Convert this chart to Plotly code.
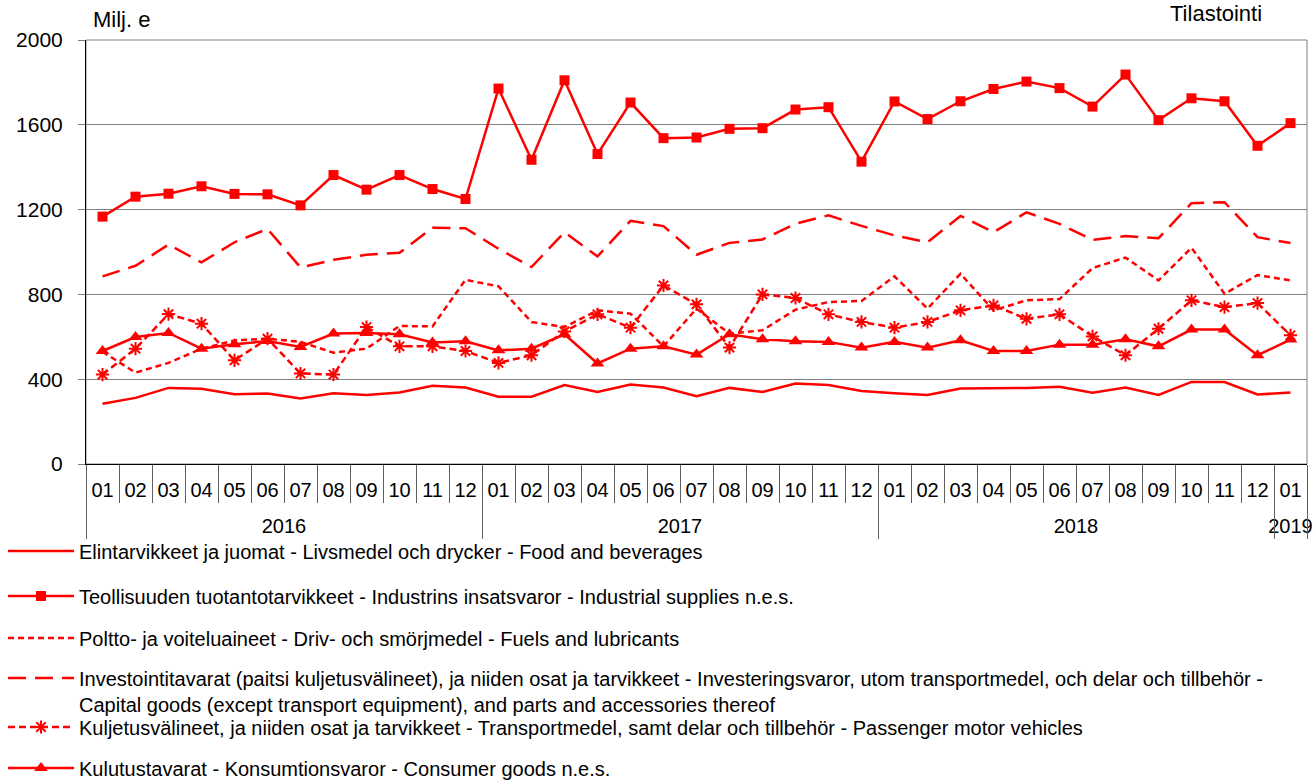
import plotly.graph_objects as go

years = ["2016"] * 12 + ["2017"] * 12 + ["2018"] * 12 + ["2019"]
months = ["01", "02", "03", "04", "05", "06", "07", "08", "09", "10", "11", "12"] * 3 + ["01"]

food = [284, 312, 359, 355, 329, 333, 309, 334, 326, 337, 369, 361,
        317, 317, 372, 340, 375, 361, 320, 359, 340, 380, 373, 344,
        334, 325, 356, 356, 359, 364, 336, 361, 326, 387, 387, 328, 337]
industrial = [1167, 1261, 1275, 1310, 1274, 1272, 1220, 1363, 1294, 1363, 1297, 1250,
              1771, 1435, 1810, 1462, 1705, 1537, 1540, 1581, 1584, 1672, 1683, 1426,
              1710, 1627, 1711, 1769, 1804, 1773, 1686, 1837, 1622, 1725, 1711, 1501, 1608]
fuels = [530, 431, 477, 544, 583, 591, 576, 525, 544, 651, 649, 869,
         838, 670, 646, 725, 709, 555, 733, 615, 631, 728, 764, 769,
         885, 733, 897, 725, 772, 778, 924, 974, 866, 1020, 803, 891, 866]
capital = [885, 935, 1035, 951, 1046, 1109, 927, 963, 987, 996, 1114, 1112,
           1015, 929, 1093, 979, 1147, 1122, 987, 1043, 1059, 1133, 1173, 1123,
           1078, 1046, 1170, 1093, 1187, 1133, 1057, 1075, 1065, 1230, 1235, 1070, 1042]
passenger = [422, 544, 707, 662, 489, 591, 427, 422, 646, 555, 555, 533,
             477, 513, 625, 706, 643, 842, 753, 549, 800, 783, 706, 670,
             643, 670, 725, 748, 685, 706, 602, 513, 638, 772, 740, 759, 607]
consumer = [533, 599, 618, 544, 565, 580, 552, 615, 618, 612, 573, 579,
            536, 544, 612, 474, 544, 555, 516, 612, 588, 579, 576, 549,
            576, 549, 584, 533, 533, 563, 563, 588, 555, 634, 634, 513, 587]

names = [
    "Elintarvikkeet ja juomat - Livsmedel och drycker - Food and beverages",
    "Teollisuuden tuotantotarvikkeet - Industrins insatsvaror - Industrial supplies n.e.s.",
    "Poltto- ja voiteluaineet - Driv- och smörjmedel - Fuels and lubricants",
    "Investointitavarat (paitsi kuljetusvälineet), ja niiden osat ja tarvikkeet - Investeringsvaror, utom transportmedel, och delar och tillbehör -<br>Capital goods (except transport equipment), and parts and accessories thereof",
    "Kuljetusvälineet, ja niiden osat ja tarvikkeet - Transportmedel, samt delar och tillbehör - Passenger motor vehicles",
    "Kulutustavarat - Konsumtionsvaror - Consumer goods n.e.s.",
]

RED = "#FF0000"
FONT = "Liberation Sans, Arial, sans-serif"
keys = [f"{y}-{m}" for y, m in zip(years, months)]
n = len(keys)

# year groups (label positions and separators derived from the years list)
year_labels, year_centers, year_bounds = [], [], [-0.5]
start = 0
for i in range(1, n + 1):
    if i == n or years[i] != years[start]:
        year_labels.append(years[start])
        year_centers.append((start + i - 1) / 2)
        year_bounds.append(i - 0.5)
        start = i
month_bounds = [i - 0.5 for i in range(n + 1)]

fig = go.Figure()
series = [
    (food, dict(width=2.5), None, "lines"),
    (industrial, dict(width=2.5), dict(symbol="square", size=10), "lines+markers"),
    (fuels, dict(width=2.5, dash="6px,4px"), None, "lines"),
    (capital, dict(width=2.5, dash="18px,9px"), None, "lines"),
    (passenger, dict(width=2.5, dash="7px,4px"), dict(symbol="asterisk-open", size=11, line=dict(width=2, color=RED)), "lines+markers"),
    (consumer, dict(width=2.5), dict(symbol="triangle-up", size=12), "lines+markers"),
]
for k, (vals, line, marker, mode) in enumerate(series):
    tr = dict(x=keys, y=vals, name=names[k], mode=mode,
              line=dict(color=RED, **line),
              legend="legend" if k == 0 else f"legend{k+1}")
    if marker:
        tr["marker"] = dict(color=RED, **marker)
    fig.add_trace(go.Scatter(**tr))

# empty helper traces so that the overlay axes (year labels, separators) get drawn
for ax in ["x2", "x3", "x4"]:
    fig.add_trace(go.Scatter(x=[], y=[], xaxis=ax, yaxis="y", showlegend=False,
                             hoverinfo="skip", mode="lines"))

L, R, T, B = 86, 7, 40, 316
H = 780 - T - B
W = 1314 - L - R

def py(p):
    return (780 - B - p) / H

legend_y = [551, 596, 638, 691, 727, 768]
layout_legends = {}
for k, yy in enumerate(legend_y):
    key = "legend" if k == 0 else f"legend{k+1}"
    layout_legends[key] = dict(
        x=(3 - L) / W, xanchor="left", y=py(yy), yanchor="middle",
        font=dict(family=FONT, size=20, color="#000"),
        bgcolor="rgba(0,0,0,0)", itemwidth=66,
        valign="top" if k == 3 else "middle")

XR = [-0.5, n - 0.5]
fig.update_layout(
    width=1314, height=780,
    margin=dict(l=L, r=R, t=T, b=B, autoexpand=False),
    paper_bgcolor="white", plot_bgcolor="white",
    font=dict(family=FONT, size=20, color="#000"),
    showlegend=True,
    **layout_legends,
    xaxis=dict(
        type="category", categoryorder="array", categoryarray=keys, range=XR,
        tickmode="array", tickvals=keys, ticktext=months,
        showgrid=False, showline=True, linecolor="#000", linewidth=1,
        ticks="", tickfont=dict(family=FONT, size=20, color="#000"),
        ticklabelstandoff=8, zeroline=False, automargin=False,
    ),
    xaxis2=dict(
        overlaying="x", anchor="y", side="bottom", range=XR,
        tickmode="array", tickvals=year_centers, ticktext=year_labels,
        ticks="", showgrid=False, showline=False, zeroline=False,
        tickfont=dict(family=FONT, size=20, color="#000"),
        ticklabelstandoff=48, automargin=False,
    ),
    xaxis3=dict(
        overlaying="x", anchor="y", side="bottom", range=XR,
        tickmode="array", tickvals=month_bounds, ticks="outside", ticklen=38,
        tickcolor="#606060", tickwidth=1, showticklabels=False,
        showgrid=False, showline=False, zeroline=False, automargin=False,
    ),
    xaxis4=dict(
        overlaying="x", anchor="y", side="bottom", range=XR,
        tickmode="array", tickvals=year_bounds, ticks="outside", ticklen=74,
        tickcolor="#606060", tickwidth=1, showticklabels=False,
        showgrid=False, showline=False, zeroline=False, automargin=False,
    ),
    yaxis=dict(
        range=[0, 2000], tickvals=[0, 400, 800, 1200, 1600, 2000],
        showgrid=True, gridcolor="#808080", gridwidth=1,
        showline=True, linecolor="#000", linewidth=1,
        ticks="outside", ticklen=7, tickcolor="#808080",
        tickfont=dict(family=FONT, size=21, color="#000"),
        ticklabelstandoff=11, zeroline=False, automargin=False,
    ),
    shapes=[dict(type="rect", xref="paper", yref="paper", x0=0, x1=1, y0=0, y1=1,
                 line=dict(color="#808080", width=1), layer="below")],
    annotations=[
        dict(text="Milj. e", xref="paper", yref="paper", x=(91 - L) / W, y=py(20),
             xanchor="left", yanchor="middle", showarrow=False,
             font=dict(family=FONT, size=22, color="#000")),
        dict(text="Tulli<br>Tilastointi", xref="paper", yref="paper", x=(1168 - L) / W, y=py(28),
             xanchor="left", yanchor="bottom", align="left", showarrow=False,
             font=dict(family=FONT, size=22, color="#000")),
    ],
)

fig.write_html("out.html", config={"displayModeBar": False},
               post_script="document.body.style.margin='0px';")
